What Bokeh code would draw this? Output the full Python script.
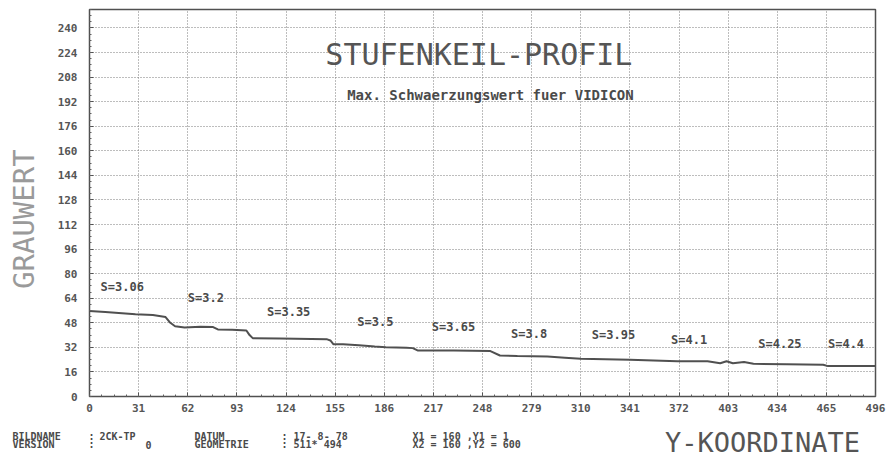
import math
from bokeh.plotting import figure
from bokeh.layouts import column, row
from bokeh.models import Range1d, FixedTicker, ColumnDataSource
from bokeh.core.properties import value
from bokeh.embed import file_html
from bokeh.resources import INLINE

# ---- data ----
x_ticks = [0, 31, 62, 93, 124, 155, 186, 217, 248, 279, 310, 341, 372, 403, 434, 465, 496]
y_ticks = [0, 16, 32, 48, 64, 80, 96, 112, 128, 144, 160, 176, 192, 208, 224, 240]

profile_x = [0, 10, 29, 40, 48, 51, 54, 60, 70, 78, 81, 90, 99, 101, 103, 120, 140, 150, 152, 154,
             160, 170, 180, 187, 200, 204, 207, 230, 253, 259, 270, 289, 300, 310, 341, 371, 390, 398,
             402, 406, 413, 419, 440, 463, 466, 496]
profile_y = [55.6, 55, 53.5, 53, 51.7, 48, 45.7, 45, 45.4, 45.2, 43.7, 43.4, 43, 40, 38, 37.8, 37.5,
             37.2, 36.5, 34, 34, 33.3, 32.5, 32, 31.8, 31.5, 30, 30, 29.6, 26.7, 26.3, 26, 25.3, 24.6,
             23.9, 23, 23, 21.7, 23, 21.7, 22.4, 21.3, 21, 20.7, 19.8, 19.8]

step_labels = ["S=3.06", "S=3.2", "S=3.35", "S=3.5", "S=3.65", "S=3.8", "S=3.95", "S=4.1", "S=4.25", "S=4.4"]
step_label_x = [7, 62, 112, 169, 216, 266, 317, 367, 422, 466]
step_label_y = [71, 64, 55, 48.3, 45, 41, 40, 37, 34, 34]

title_text = "STUFENKEIL-PROFIL"
subtitle_text = "Max. Schwaerzungswert fuer VIDICON"
y_label_text = "GRAUWERT"
x_label_text = "Y-KOORDINATE"

footer_line1 = ["BILDNAME", ":", "2CK-TP", "DATUM", ": 17-  8- 78", "X1 = 160 ,Y1 =   1"]
footer_line2 = ["VERSION", ":", "0", "GEOMETRIE", ": 511*  494", "X2 = 160 ,Y2 = 600"]

MONO = "DejaVu Sans Mono"
INK = "#4a4a4a"

LEFT_W, MAIN_H, FOOT_H = 50, 418, 41
y_range = Range1d(0, 252)

# ---- main plot ----
fig = figure(width=887 - LEFT_W, height=MAIN_H, x_range=Range1d(0, 496), y_range=y_range,
             output_backend="svg", toolbar_location=None,
             min_border_left=89 - LEFT_W, min_border_right=12, min_border_top=9, min_border_bottom=22)
fig.background_fill_color = "white"
fig.border_fill_color = "white"
fig.outline_line_color = "#505050"
fig.outline_line_width = 1.5

for ax, ticks, minor in ((fig.xaxis, x_ticks, [t * 31 / 4 for t in range(0, 65)]),
                         (fig.yaxis, y_ticks, [t * 4 for t in range(0, 64)])):
    ax.ticker = FixedTicker(ticks=ticks, minor_ticks=minor)
    ax.axis_line_color = None
    ax.major_tick_in = 4
    ax.major_tick_out = 0
    ax.major_tick_line_color = "#505050"
    ax.minor_tick_in = 2
    ax.minor_tick_out = 0
    ax.minor_tick_line_color = "#606060"
    ax.major_label_text_font = MONO
    ax.major_label_text_font_size = "11px"
    ax.major_label_text_font_style = "bold"
    ax.major_label_text_color = "#555555"
fig.xaxis.major_label_standoff = 7
fig.yaxis.major_label_standoff = 12

fig.grid.grid_line_color = "#7a7a7a"
fig.grid.grid_line_dash = "1 2"
fig.grid.grid_line_width = 1

fig.line(profile_x, profile_y, line_color="#505050", line_width=2)

src = ColumnDataSource(dict(x=step_label_x, y=step_label_y, t=step_labels))
fig.text(x="x", y="y", text="t", source=src, text_font=value(MONO), text_font_size="12px",
         text_font_style="bold", text_color=INK, text_align="left", text_baseline="middle")

fig.text(x=[245.7], y=[223], text=[title_text], text_font=value(MONO), text_font_size="30px",
         text_color="#555555", text_align="center", text_baseline="middle")
fig.text(x=[253], y=[196.3], text=[subtitle_text], text_font=value(MONO), text_font_size="14px",
         text_font_style="bold", text_color=INK, text_align="center", text_baseline="middle")

# ---- left strip with the y axis title ----
left = figure(width=LEFT_W, height=MAIN_H, x_range=Range1d(0, LEFT_W), y_range=y_range,
              output_backend="svg", toolbar_location=None, x_axis_location=None, y_axis_location=None,
              min_border_left=0, min_border_right=0, min_border_top=9, min_border_bottom=22)
left.outline_line_color = None
left.grid.visible = False
left.text(x=[23], y=[115.5], text=[y_label_text], text_font=value(MONO), text_font_size="29px",
          text_color="#9a9a9a", text_align="center", text_baseline="middle", angle=math.pi / 2)

# ---- footer strip ----
footer = figure(width=887, height=FOOT_H, x_range=Range1d(0, 887), y_range=Range1d(0, FOOT_H),
                output_backend="svg", toolbar_location=None, x_axis_location=None, y_axis_location=None,
                min_border_left=0, min_border_right=0, min_border_top=0, min_border_bottom=0)
footer.outline_line_color = None
footer.grid.visible = False
col_px = [12, 88, 99, 194, 281, 412]
col_px2 = [12, 88, 145, 194, 281, 412]
footer.text(x=col_px, y=[23.5] * 6, text=footer_line1, text_font=value(MONO), text_font_size="10px",
            text_font_style="bold", text_color=INK, text_align="left", text_baseline="middle")
footer.text(x=col_px2, y=[15] * 6, text=footer_line2, text_font=value(MONO), text_font_size="10px",
            text_font_style="bold", text_color=INK, text_align="left", text_baseline="middle")
footer.text(x=[762], y=[17], text=[x_label_text], text_font=value(MONO), text_font_size="27px",
            text_color="#555555", text_align="center", text_baseline="middle")

p = column(row(left, fig, spacing=0), footer, spacing=0)
open("out.html", "w").write(file_html(p, INLINE))
